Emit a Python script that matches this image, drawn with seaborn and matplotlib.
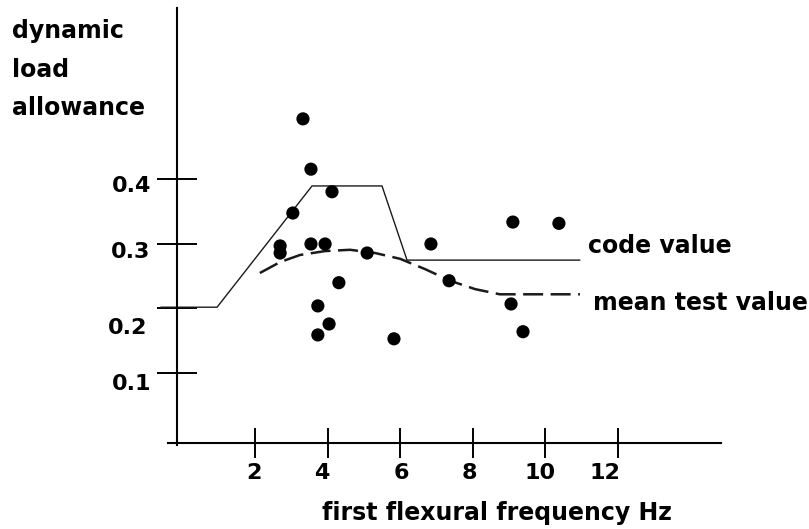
import matplotlib
matplotlib.use("Agg")
import matplotlib.pyplot as plt
import matplotlib.transforms as mtransforms
import seaborn as sns
import pandas as pd

# ---- data ----
test_freq = [3.31, 3.53, 4.11, 3.03, 2.68, 2.68, 3.53, 3.92, 5.08, 6.84,
             4.30, 3.72, 4.03, 3.72, 5.82, 7.34, 9.10, 10.37, 9.05, 9.38]
test_dla = [0.494, 0.416, 0.381, 0.348, 0.297, 0.286, 0.300, 0.300, 0.286, 0.300,
            0.240, 0.204, 0.176, 0.159, 0.153, 0.243, 0.334, 0.332, 0.207, 0.164]

code_freq = [-0.61, 0.94, 3.56, 5.49, 6.18, 10.95]
code_dla = [0.202, 0.202, 0.390, 0.390, 0.275, 0.275]

mean_freq = [2.12, 2.68, 3.23, 3.92, 4.61, 5.30, 5.99, 6.68, 7.37, 8.06, 8.74, 9.85, 10.95]
mean_dla = [0.255, 0.272, 0.283, 0.289, 0.291, 0.286, 0.277, 0.261, 0.243, 0.230, 0.222, 0.222, 0.222]

x_ticks = [2, 4, 6, 8, 10, 12]
x_tick_labels = ["2", "4", "6", "8", "10", "12"]
y_ticks = [0.1, 0.2, 0.3, 0.4]
y_tick_labels = ["0.1", "0.2", "0.3", "0.4"]

sns.set_theme(style="white")
plt.rcParams["font.family"] = ["DejaVu Sans"]

fig = plt.figure(figsize=(8.09, 5.29), dpi=100)
ax = fig.add_axes([0, 0, 1, 1])
ax.set_facecolor("white")

tests = pd.DataFrame({"f": test_freq, "d": test_dla})
code = pd.DataFrame({"f": code_freq, "d": code_dla})
mean = pd.DataFrame({"f": mean_freq, "d": mean_dla})

sns.lineplot(data=code, x="f", y="d", ax=ax, color="#1a1a1a", lw=1.0,
             estimator=None, sort=False)
sns.lineplot(data=mean, x="f", y="d", ax=ax, color="#1a1a1a", lw=1.8,
             estimator=None, sort=False, dashes=False)
ax.lines[-1].set_dashes((8, 3))
sns.scatterplot(data=tests, x="f", y="d", ax=ax, color="black", s=90,
                edgecolor="none", zorder=5)

ax.set_xlim(-5.048, 17.269)
ax.set_ylim(-0.1419, 0.6783)

for s in ["top", "right"]:
    ax.spines[s].set_visible(False)
for s in ["left", "bottom"]:
    ax.spines[s].set_visible(True)
    ax.spines[s].set_color("black")
    ax.spines[s].set_linewidth(1.5)
ax.spines["left"].set_position(("data", -0.166))
ax.spines["left"].set_bounds(-0.0116, 0.666)
ax.spines["bottom"].set_position(("data", -0.0085))
ax.spines["bottom"].set_bounds(-0.41, 14.84)

ax.set_xticks(x_ticks)
ax.set_xticklabels(x_tick_labels)
ax.set_yticks(y_ticks)
ax.set_yticklabels(y_tick_labels)
ax.tick_params(axis="x", direction="inout", length=21.6, width=1.4, color="black",
               pad=3.5, labelsize=16, labelcolor="black")
ax.tick_params(axis="y", direction="inout", length=28.8, width=1.4, color="black",
               pad=3.6, labelsize=16, labelcolor="black")
ax.tick_params(axis="both", which="both", bottom=True, left=True)
for lab in ax.get_xticklabels() + ax.get_yticklabels():
    lab.set_fontweight("bold")

x_shift_px = [-1.5, -6, 0.5, -4, -5.5, -13]
for lab, dx in zip(ax.get_xticklabels(), x_shift_px):
    lab.set_transform(lab.get_transform() +
                      mtransforms.ScaledTranslation(dx / 100, 0, fig.dpi_scale_trans))
y_shift_px = [(-1, -9), (-5, -17.5), (-2, -6), (-1, -4.5)]
for lab, (dx, dy) in zip(ax.get_yticklabels(), y_shift_px):
    lab.set_transform(lab.get_transform() +
                      mtransforms.ScaledTranslation(dx / 100, dy / 100, fig.dpi_scale_trans))

ax.set_xlabel("")
ax.set_ylabel("")

W, H = 809, 529
txt = dict(fontsize=17, fontweight="bold", color="black")
fig.text(12 / W, 1 - 38 / H, "dynamic", va="baseline", ha="left", **txt)
fig.text(12 / W, 1 - 77 / H, "load", va="baseline", ha="left", **txt)
fig.text(12 / W, 1 - 115 / H, "allowance", va="baseline", ha="left", **txt)
fig.text(588 / W, 1 - 253 / H, "code value", va="baseline", ha="left", **txt)
fig.text(593 / W, 1 - 310 / H, "mean test value", va="baseline", ha="left", **txt)
fig.text(497 / W, 1 - 520 / H, "first flexural frequency Hz", va="baseline", ha="center", **txt)

fig.savefig("out.png", dpi=100)
